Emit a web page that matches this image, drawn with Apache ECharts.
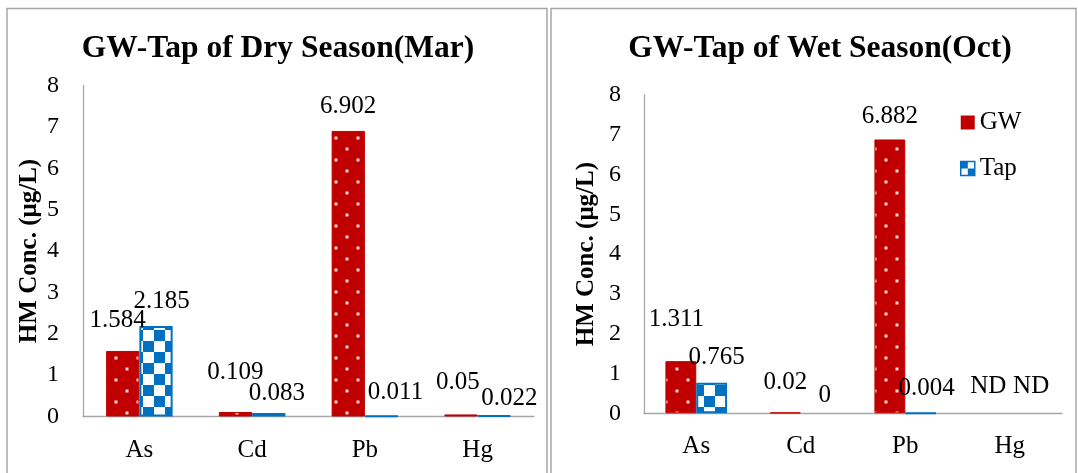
<!DOCTYPE html>
<html>
<head>
<meta charset="utf-8">
<script src="https://cdn.jsdelivr.net/npm/echarts@6/dist/echarts.min.js"></script>
<style>
  html, body { margin: 0; padding: 0; background: #fff; }
  #chart { width: 1078px; height: 473px; }
</style>
</head>
<body>
<div id="chart"></div>
<script>
// Heavy-metal concentrations (µg/L), groundwater vs tap water
const metals = ['As', 'Cd', 'Pb', 'Hg'];
const seriesNames = ['GW', 'Tap'];
const dryGW = [1.584, 0.109, 6.902, 0.05];
const dryTap = [2.185, 0.083, 0.011, 0.022];
const wetGW = [1.311, 0.02, 6.882, null];   // null: not detected
const wetTap = [0.765, 0, 0.004, null];
const yMin = 0, yMax = 8, yStep = 1;
const titles = ['GW-Tap of Dry Season(Mar)', 'GW-Tap of Wet Season(Oct)'];
const yName = 'HM Conc. (μg/L)';
const ndText = 'ND';

// label nudges [dx, dy] so the value labels do not collide
const dryGWOff = [[-5, -13.5], [0, -22.5], [0, -6.5], [-3, -14.5]];
const dryTapOff = [[5.5, -7.5], [8, -2.5], [14, -5.5], [15, 0.5]];
const wetGWOff = [[-4.5, -24.5], [0, -12.5], [0, -5.5], [-6, -9.5]];
const wetTapOff = [[5, -7.5], [8.5, -0.5], [6, -6], [6, -9.5]];

const RED = '#C00000', BLUE = '#0070C0';
const SERIF = "'Liberation Serif', 'Times New Roman', serif";

// dotted red fill
function dotPattern() {
  const c = document.createElement('canvas');
  c.width = 22; c.height = 22;
  const g = c.getContext('2d');
  g.fillStyle = RED; g.fillRect(0, 0, 22, 22);
  g.fillStyle = 'rgba(255,225,225,0.95)';
  g.fillRect(4.5, 4.5, 3, 3);
  g.fillRect(15.5, 15.5, 3, 3);
  return c;
}
// blue / white checkerboard fill
function checkerPattern(cell) {
  const c = document.createElement('canvas');
  c.width = cell * 2; c.height = cell * 2;
  const g = c.getContext('2d');
  g.fillStyle = '#ffffff'; g.fillRect(0, 0, cell * 2, cell * 2);
  g.fillStyle = BLUE;
  g.fillRect(0, 0, cell, cell);
  g.fillRect(cell, cell, cell, cell);
  return c;
}
const dotFill = { image: dotPattern(), repeat: 'repeat' };
const checkFill = { image: checkerPattern(11), repeat: 'repeat' };
const checkIcon = { image: checkerPattern(7), repeat: 'repeat' };

function items(values, offsets) {
  return values.map((v, i) => {
    const it = { value: v === null ? 0 : v, label: { offset: offsets[i] } };
    if (v === null) {
      it.label.formatter = ndText;
      it.itemStyle = { color: 'transparent', borderWidth: 0 };
    } else if (v === 0) {
      it.itemStyle = { borderWidth: 0 };
    }
    return it;
  });
}

const grids = [
  { left: 83, top: 85.5, width: 451, height: 331 },
  { left: 644, top: 95, width: 418, height: 318.3 }
];
const titleX = [278, 820];
const nameGaps = [40.5, 45];
const labelMargins = [24, 23];

const barLabel = {
  show: true, position: 'top', distance: 5,
  fontFamily: SERIF, fontSize: 25, color: '#000'
};

const option = {
  backgroundColor: '#fff',
  animation: false,
  title: titles.map((t, i) => ({
    text: t, left: titleX[i], top: 33, textAlign: 'center', padding: 0,
    textStyle: { fontFamily: SERIF, fontSize: 31.5, fontWeight: 'bold', color: '#000' }
  })),
  legend: {
    orient: 'vertical', left: 960, top: 110, padding: 0,
    itemWidth: 14, itemHeight: 14, itemGap: 21,
    textStyle: { fontFamily: SERIF, fontSize: 25, color: '#000', lineHeight: 25 },
    data: [
      { name: seriesNames[0], icon: 'rect', itemStyle: { color: RED, borderWidth: 0 } },
      { name: seriesNames[1], icon: 'rect', itemStyle: { color: checkIcon, borderColor: BLUE, borderWidth: 1.5 } }
    ]
  },
  grid: grids,
  xAxis: grids.map((g, i) => ({
    type: 'category', gridIndex: i, data: metals,
    axisLine: { lineStyle: { color: '#A6A6A6', width: 1.3 } },
    axisTick: { show: false },
    axisLabel: { fontFamily: SERIF, fontSize: 25, color: '#000', margin: 21 }
  })),
  yAxis: grids.map((g, i) => ({
    type: 'value', gridIndex: i, min: yMin, max: yMax, interval: yStep,
    name: yName, nameLocation: 'middle', nameGap: nameGaps[i], nameMoveOverlap: false,
    nameTextStyle: { fontFamily: SERIF, fontSize: 25, fontWeight: 'bold', color: '#000' },
    axisLine: { show: true, lineStyle: { color: '#A6A6A6', width: 1.3 } },
    axisTick: { show: false },
    splitLine: { show: false },
    axisLabel: { fontFamily: SERIF, fontSize: 24, color: '#000', margin: labelMargins[i] }
  })),
  series: [
    { name: seriesNames[0], type: 'bar', xAxisIndex: 0, yAxisIndex: 0, data: items(dryGW, dryGWOff) },
    { name: seriesNames[1], type: 'bar', xAxisIndex: 0, yAxisIndex: 0, data: items(dryTap, dryTapOff) },
    { name: seriesNames[0], type: 'bar', xAxisIndex: 1, yAxisIndex: 1, data: items(wetGW, wetGWOff) },
    { name: seriesNames[1], type: 'bar', xAxisIndex: 1, yAxisIndex: 1, data: items(wetTap, wetTapOff) }
  ].map((s, k) => Object.assign(s, {
    barGap: '0%', barCategoryGap: '41%',
    label: barLabel,
    itemStyle: k % 2 === 0
      ? { color: dotFill, borderColor: RED, borderWidth: 1 }
      : { color: checkFill, borderColor: BLUE, borderWidth: 2 }
  })),
  graphic: [
    { type: 'rect', shape: { x: 7, y: 8.5, width: 540, height: 480 },
      style: { fill: 'none', stroke: '#A6A6A6', lineWidth: 1.5 }, silent: true },
    { type: 'rect', shape: { x: 551, y: 8.5, width: 525, height: 480 },
      style: { fill: 'none', stroke: '#A6A6A6', lineWidth: 1.5 }, silent: true }
  ]
};

const chart = echarts.init(document.getElementById('chart'), null, { renderer: 'canvas' });
chart.setOption(option);
</script>
</body>
</html>
